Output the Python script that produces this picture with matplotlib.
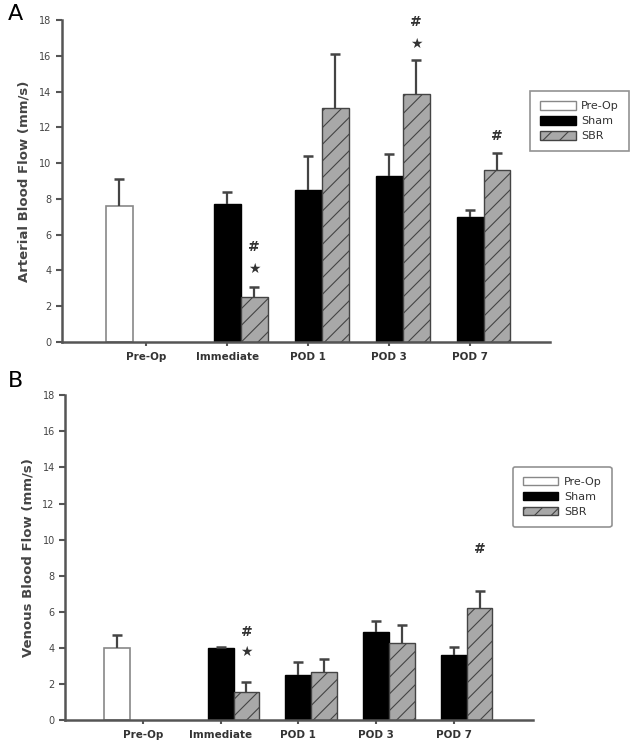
import numpy as np
import matplotlib
matplotlib.use("Agg")
import matplotlib.pyplot as plt
from matplotlib.patches import Patch

groups = ["Pre-Op", "Immediate", "POD 1", "POD 3", "POD 7"]
series = ["Pre-Op", "Sham", "SBR"]

# panel A: arterial
art_preop = [7.6, np.nan, np.nan, np.nan, np.nan]
art_preop_err = [1.5, 0, 0, 0, 0]
art_sham = [np.nan, 7.7, 8.5, 9.3, 7.0]
art_sham_err = [0, 0.7, 1.9, 1.2, 0.4]
art_sbr = [np.nan, 2.5, 13.1, 13.9, 9.6]
art_sbr_err = [0, 0.6, 3.0, 1.9, 1.0]
art_marks = {1: ["#", "★"], 3: ["#", "★"], 4: ["#"]}

# panel B: venous
ven_preop = [4.0, np.nan, np.nan, np.nan, np.nan]
ven_preop_err = [0.7, 0, 0, 0, 0]
ven_sham = [np.nan, 4.0, 2.5, 4.9, 3.6]
ven_sham_err = [0, 0.05, 0.7, 0.6, 0.45]
ven_sbr = [np.nan, 1.55, 2.65, 4.25, 6.2]
ven_sbr_err = [0, 0.55, 0.75, 1.0, 0.95]
ven_marks = {1: ["#", "★"], 4: ["#"]}

axc = "#555555"
sbr_fill = "#a8a8a8"
w = 0.333


def errs(ax, xpos, vals, err):
    vals = np.array(vals, dtype=float)
    err = np.array(err, dtype=float)
    ok = ~np.isnan(vals)
    ax.errorbar(xpos[ok], vals[ok], yerr=[np.zeros(ok.sum()), err[ok]],
                fmt="none", ecolor="#444444", elinewidth=1.6, capsize=0)
    ax.plot(xpos[ok], vals[ok] + err[ok], ls="none", marker="_", ms=7,
            mew=1.8, color="#444444")


def draw(ax, pre, pre_e, sham, sham_e, sbr, sbr_e, marks, ylabel, xlim, mark_pos):
    x = np.arange(len(groups))
    ax.bar(x - w, pre, w, color="white", edgecolor="#888888", linewidth=1.2)
    ax.bar(x, sham, w, color="black", edgecolor="black", linewidth=1.0)
    ax.bar(x + w, sbr, w, color=sbr_fill, edgecolor="#444444", linewidth=1.0,
           hatch="//")
    errs(ax, x - w, pre, pre_e)
    errs(ax, x, sham, sham_e)
    errs(ax, x + w, sbr, sbr_e)
    for i, syms in marks.items():
        for sym, yy in zip(syms, mark_pos[i]):
            ax.text(x[i] + w, yy, sym, ha="center", va="center",
                    fontsize=10, fontweight="bold", color="#333333")
    ax.set_xlim(*xlim)
    ax.set_ylim(0, 18)
    ax.set_yticks(np.arange(0, 19, 2))
    ax.set_xticks(x)
    ax.set_xticklabels(groups, fontsize=7.5, fontweight="bold", color="#333333")
    ax.tick_params(axis="y", labelsize=7, labelcolor="#444444", color=axc,
                   width=1.5, length=4)
    ax.tick_params(axis="x", color=axc, width=1.5, length=3, pad=4)
    for s in ["top", "right"]:
        ax.spines[s].set_visible(False)
    for s in ["left", "bottom"]:
        ax.spines[s].set_color(axc)
        ax.spines[s].set_linewidth(1.8)
    ax.set_ylabel(ylabel, fontsize=9.5, fontweight="bold", color="#444444",
                  labelpad=6)


plt.rcParams["hatch.color"] = "#444444"
plt.rcParams["hatch.linewidth"] = 0.8
fig = plt.figure(figsize=(6.39, 7.5), dpi=100)

ax1 = fig.add_axes([0.097, 0.544, 0.764, 0.429])
draw(ax1, art_preop, art_preop_err, art_sham, art_sham_err, art_sbr, art_sbr_err,
     art_marks, "Arterial Blood Flow (mm/s)", (-1.04, 4.99),
     {1: [5.3, 4.1], 3: [17.9, 16.7], 4: [11.5]})

ax2 = fig.add_axes([0.102, 0.04, 0.732, 0.433])
draw(ax2, ven_preop, ven_preop_err, ven_sham, ven_sham_err, ven_sbr, ven_sbr_err,
     ven_marks, "Venous Blood Flow (mm/s)", (-1.0, 5.02),
     {1: [4.9, 3.8], 4: [9.5]})

handles = [Patch(facecolor="white", edgecolor="#888888", label="Pre-Op"),
           Patch(facecolor="black", edgecolor="black", label="Sham"),
           Patch(facecolor=sbr_fill, edgecolor="#444444", hatch="//", label="SBR")]
for ax, loc, fancy in [(ax1, (0.959, 0.78), False), (ax2, (0.957, 0.78), True)]:
    leg = ax.legend(handles=handles, loc="upper left", bbox_to_anchor=loc,
                    fontsize=8, frameon=True, fancybox=fancy, handlelength=3.2,
                    handleheight=0.8, labelspacing=0.45, borderpad=0.9,
                    handletextpad=0.5, borderaxespad=0)
    leg.get_frame().set_edgecolor("#777777")
    leg.get_frame().set_linewidth(1.2)
    for t in leg.get_texts():
        t.set_color("#333333")

fig.text(0.012, 0.982, "A", fontsize=16, va="center")
fig.text(0.012, 0.492, "B", fontsize=16, va="center")

plt.savefig("out.png", dpi=100)
